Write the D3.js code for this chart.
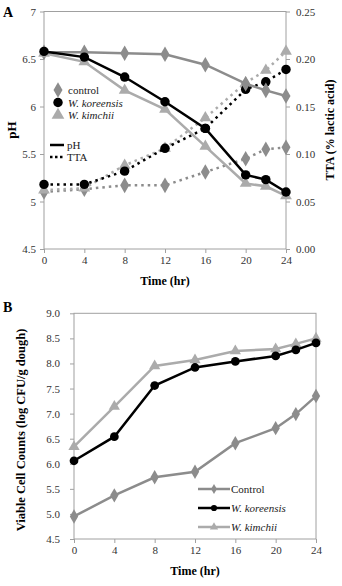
<!DOCTYPE html>
<html>
<head>
<meta charset="utf-8">
<script src="https://cdn.jsdelivr.net/npm/d3@7"></script>
<style>
  body { margin: 0; background: #fff; }
  svg, svg text { font-family: "Liberation Serif", "Times New Roman", serif; }
  .axis path, .axis line { stroke: #a0a0a0; }
  .axis text { fill: #333; font-size: 11px; font-family: "Liberation Serif", serif; }
</style>
</head>
<body>
<div id="chart"></div>
<script>
// time points (hr)
var hours = [0, 4, 8, 12, 16, 20, 22, 24];
var xTicks = [0, 4, 8, 12, 16, 20, 24];

// panel A - pH
var phControl   = [6.57, 6.57, 6.56, 6.55, 6.44, 6.24, 6.17, 6.11];
var phKoreensis = [6.58, 6.52, 6.31, 6.05, 5.77, 5.28, 5.23, 5.10];
var phKimchii   = [6.56, 6.47, 6.17, 5.97, 5.58, 5.19, 5.16, 5.06];

// panel A - TTA (% lactic acid)
var ttaControl   = [0.060, 0.063, 0.067, 0.067, 0.081, 0.095, 0.105, 0.107];
var ttaKoreensis = [0.068, 0.068, 0.082, 0.106, 0.127, 0.168, 0.176, 0.189];
var ttaKimchii   = [0.062, 0.064, 0.088, 0.106, 0.138, 0.175, 0.188, 0.208];

// panel B - viable cell counts (log CFU/g dough)
var cellControl   = [4.95, 5.37, 5.73, 5.84, 6.41, 6.71, 6.99, 7.35];
var cellKoreensis = [6.06, 6.54, 7.56, 7.92, 8.04, 8.15, 8.27, 8.41];
var cellKimchii   = [6.34, 7.14, 7.95, 8.07, 8.25, 8.29, 8.39, 8.50];

var phTicks = [4.5, 5, 5.5, 6, 6.5, 7];
var ttaTicks = [0, 0.05, 0.10, 0.15, 0.20, 0.25];
var cellTicks = [4.5, 5, 5.5, 6, 6.5, 7, 7.5, 8, 8.5, 9];

var cControl = "#8c8c8c", cKoreensis = "#000", cKimchii = "#ababab";

var svg = d3.select("#chart").append("svg")
    .attr("width", 342).attr("height", 586);

function marker(g, type, x, y, color, s) {
  var sym = type == "circle" ? d3.symbolCircle : (type == "diamond" ? d3.symbolDiamond : d3.symbolTriangle);
  g.append("path")
    .attr("d", d3.symbol().type(sym).size(s)())
    .attr("transform", "translate(" + x + "," + y + ")")
    .attr("fill", color);
}

function series(g, x, y, vals, color, type, dashed, w, s) {
  var pts = hours.map(function(h, i) { return [x(h), y(vals[i])]; });
  g.append("path")
    .attr("d", d3.line()(pts))
    .attr("fill", "none")
    .attr("stroke", color)
    .attr("stroke-width", w)
    .attr("stroke-dasharray", dashed ? "2.5,4" : null);
  pts.forEach(function(p) { marker(g, type, p[0], p[1], color, s); });
}

// axis styling: serif labels, no domain line (the frame rect draws it)
function styleAxis(g) {
  g.attr("font-family", "Liberation Serif").attr("font-size", 11);
  g.select(".domain").remove();
}

// ---------- Panel A ----------
var A = {left: 44, right: 286, top: 11.5, bottom: 249};
var xA = d3.scaleLinear().domain([0, 24]).range([A.left, A.right]);
var yA = d3.scaleLinear().domain([4.5, 7]).range([A.bottom, A.top]);
var yT = d3.scaleLinear().domain([0, 0.25]).range([A.bottom, A.top]);

var gA = svg.append("g");
gA.append("rect").attr("x", A.left).attr("y", A.top)
  .attr("width", A.right - A.left).attr("height", A.bottom - A.top)
  .attr("fill", "none").attr("stroke", "#a0a0a0");

gA.append("g").attr("class", "axis").attr("transform", "translate(0," + A.bottom + ")")
  .call(d3.axisBottom(xA).tickValues(xTicks).tickSize(4).tickPadding(3))
  .call(styleAxis);
gA.append("g").attr("class", "axis").attr("transform", "translate(" + A.left + ",0)")
  .call(d3.axisLeft(yA).tickValues(phTicks).tickFormat(d3.format("")).tickSize(4).tickPadding(4))
  .call(styleAxis);
gA.append("g").attr("class", "axis").attr("transform", "translate(" + A.right + ",0)")
  .call(d3.axisRight(yT).tickValues(ttaTicks).tickFormat(d3.format(".2f")).tickSize(4).tickPadding(6))
  .call(styleAxis);

series(gA, xA, yT, ttaControl, cControl, "diamond", true, 2.5, 70);
series(gA, xA, yT, ttaKimchii, cKimchii, "triangle", true, 2.5, 60);
series(gA, xA, yT, ttaKoreensis, cKoreensis, "circle", true, 2.5, 70);
series(gA, xA, yA, phControl, cControl, "diamond", false, 2.5, 70);
series(gA, xA, yA, phKimchii, cKimchii, "triangle", false, 2.5, 60);
series(gA, xA, yA, phKoreensis, cKoreensis, "circle", false, 2.5, 70);

gA.append("text").attr("x", 3).attr("y", 17).attr("font-weight", "bold").attr("font-size", 14).text("A");
gA.append("text").attr("transform", "translate(16,130) rotate(-90)")
  .attr("text-anchor", "middle").attr("font-weight", "bold").attr("font-size", 13).text("pH");
gA.append("text").attr("transform", "translate(334,130) rotate(-90)")
  .attr("text-anchor", "middle").attr("font-weight", "bold").attr("font-size", 12).text("TTA (% lactic acid)");
gA.append("text").attr("x", 165).attr("y", 285).attr("text-anchor", "middle")
  .attr("font-weight", "bold").attr("font-size", 12).text("Time (hr)");

// legend A
var legA = [
  {name: "control", color: cControl, type: "diamond", italic: false},
  {name: "W. koreensis", color: cKoreensis, type: "circle", italic: true},
  {name: "W. kimchii", color: cKimchii, type: "triangle", italic: true}
];
legA.forEach(function(d, i) {
  var y = 90 + i * 12.5;
  marker(gA, d.type, 58, y, d.color, 70);
  gA.append("text").attr("x", 68).attr("y", y + 4).attr("font-size", 11)
    .attr("font-style", d.italic ? "italic" : null).attr("fill", "#222").text(d.name);
});
[{name: "pH", dashed: false}, {name: "TTA", dashed: true}].forEach(function(d, i) {
  var y = 145 + i * 12;
  gA.append("line").attr("x1", 50).attr("x2", 64).attr("y1", y).attr("y2", y)
    .attr("stroke", "#000").attr("stroke-width", 2.5)
    .attr("stroke-dasharray", d.dashed ? "2.5,2.5" : null);
  gA.append("text").attr("x", 67).attr("y", y + 4).attr("font-size", 11).attr("fill", "#222").text(d.name);
});

// ---------- Panel B ----------
var B = {left: 74, right: 316, top: 313.3, bottom: 539};
var xB = d3.scaleLinear().domain([0, 24]).range([B.left, B.right]);
var yB = d3.scaleLinear().domain([4.5, 9]).range([B.bottom, B.top]);

var gB = svg.append("g");
gB.append("rect").attr("x", B.left).attr("y", B.top)
  .attr("width", B.right - B.left).attr("height", B.bottom - B.top)
  .attr("fill", "none").attr("stroke", "#a0a0a0");

gB.append("g").attr("class", "axis").attr("transform", "translate(0," + B.bottom + ")")
  .call(d3.axisBottom(xB).tickValues(xTicks).tickSize(4).tickPadding(3))
  .call(styleAxis);
gB.append("g").attr("class", "axis").attr("transform", "translate(" + B.left + ",0)")
  .call(d3.axisLeft(yB).tickValues(cellTicks).tickFormat(d3.format(".1f")).tickSize(4).tickPadding(10))
  .call(styleAxis);

series(gB, xB, yB, cellControl, cControl, "diamond", false, 2.5, 60);
series(gB, xB, yB, cellKimchii, cKimchii, "triangle", false, 2.5, 55);
series(gB, xB, yB, cellKoreensis, cKoreensis, "circle", false, 2.5, 60);

gB.append("text").attr("x", 3).attr("y", 312).attr("font-weight", "bold").attr("font-size", 14).text("B");
gB.append("text").attr("transform", "translate(25,430) rotate(-90)")
  .attr("text-anchor", "middle").attr("font-weight", "bold").attr("font-size", 12.5)
  .text("Viable Cell Counts (log CFU/g dough)");
gB.append("text").attr("x", 195).attr("y", 575).attr("text-anchor", "middle")
  .attr("font-weight", "bold").attr("font-size", 12).text("Time (hr)");

// legend B
var legB = [
  {name: "Control", color: cControl, type: "diamond", italic: false},
  {name: "W. koreensis", color: cKoreensis, type: "circle", italic: true},
  {name: "W. kimchii", color: cKimchii, type: "triangle", italic: true}
];
legB.forEach(function(d, i) {
  var y = 489 + i * 19;
  gB.append("line").attr("x1", 198).attr("x2", 230).attr("y1", y).attr("y2", y)
    .attr("stroke", d.color).attr("stroke-width", 2.5);
  marker(gB, d.type, 214, y, d.color, 30);
  gB.append("text").attr("x", 231).attr("y", y + 4).attr("font-size", 11)
    .attr("font-style", d.italic ? "italic" : null).attr("fill", "#222").text(d.name);
});
</script>
</body>
</html>
